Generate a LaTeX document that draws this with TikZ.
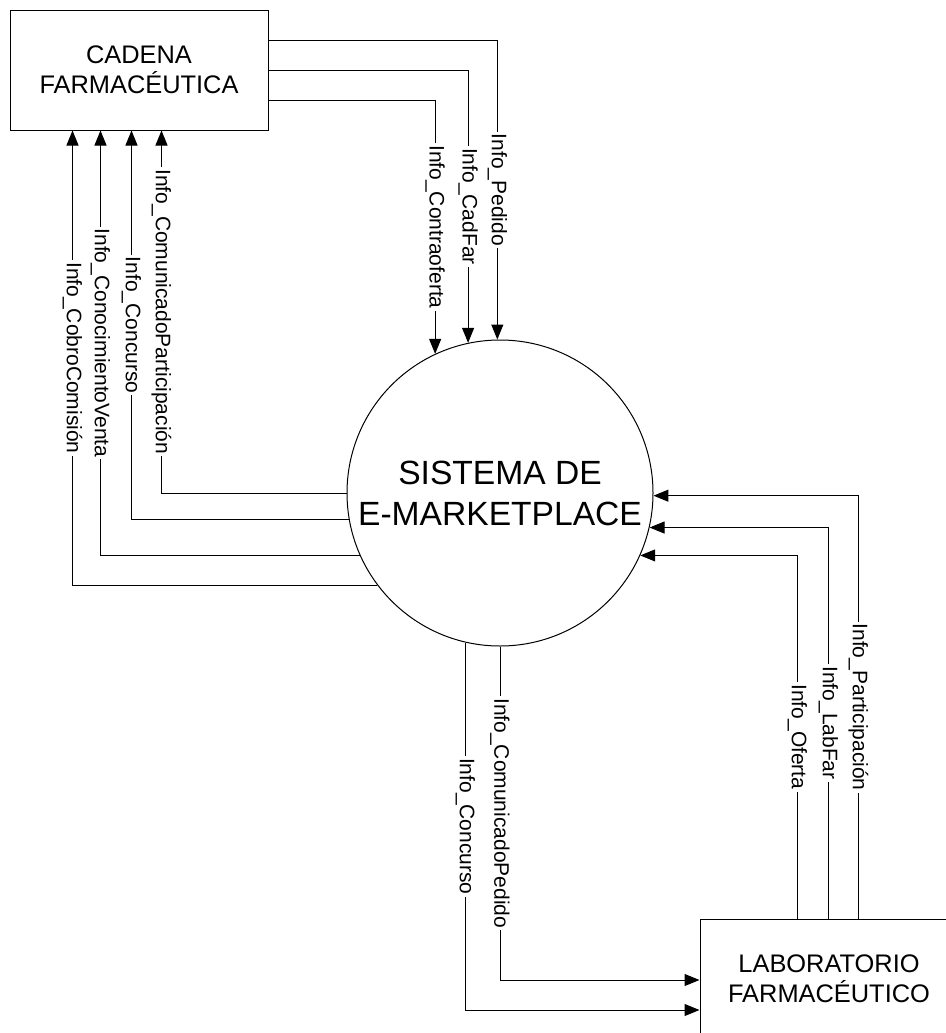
\documentclass[tikz,border=0pt]{standalone}
\usepackage{fontspec}
\setmainfont{Liberation Sans}
\usetikzlibrary{calc, arrows.meta}
\tikzstyle{entidad}=[rectangle, draw, line width=0.5pt, minimum width=129pt, minimum height=60pt, align=center, font=\fontsize{12.7}{15}\selectfont]
\tikzstyle{proceso}=[circle, draw, line width=0.5pt, minimum size=153pt, inner sep=0pt, align=center, font=\fontsize{16.8}{20.5}\selectfont]
\tikzstyle{flujo}=[draw, line width=0.5pt, -{Triangle[length=7.5pt, width=6pt]}]
\tikzstyle{dato}=[rotate=-90, fill=white, inner sep=1pt, font=\fontsize{10.5}{12}\selectfont]
\newcommand{\entidad}{\node[entidad]}

\begin{document}
\begin{tikzpicture}[x=0.5pt, y=-0.5pt]
\useasboundingbox (0,0) rectangle (946,1033);
\entidad (cad) at (139,70) {CADENA\\FARMACÉUTICA};
\entidad (lab) at (829,979) {LABORATORIO\\FARMACÉUTICO};
\node[proceso] (sys) at (500,493) {SISTEMA DE\\E-MARKETPLACE};
\foreach \dd/\ang/\txt in {-30/91/Pedido, 0/102.8/CadFar, 30/115.6/Contraoferta}{
	\draw[flujo] ($(cad.east)+(0,\dd)$) -| (sys.\ang) node[dato, pos=0.75]{Info\_\txt};
	}
\foreach \ang/\dd/\txt in {180.75/152/ComunicadoParticipación, 190.9/122/Concurso, 204.3/91/ConocimientoVenta, 217.4/63/CobroComisión}{
	\draw[flujo] (sys.\ang) -| ($(cad.south west)+(\dd,0)$) node[dato, pos=0.75]{Info\_\txt};
	}
\foreach \dd/\ang/\txt in {98/336.1/Oferta, 129/347.9/LabFar, 159/359.25/Participación}{
	\draw[flujo] ($(lab.north west)+(\dd,0)$) |- (sys.\ang) node[dato, pos=0.25]{Info\_\txt};
	}
\foreach \ang/\dd/\txt in {257.2/31/Concurso, 270/1/ComunicadoPedido}{
	\draw[flujo] (sys.\ang) |- ($(lab.west)+(0,\dd)$) node[dato, pos=0.25]{Info\_\txt};
	}
\end{tikzpicture}
\end{document}
